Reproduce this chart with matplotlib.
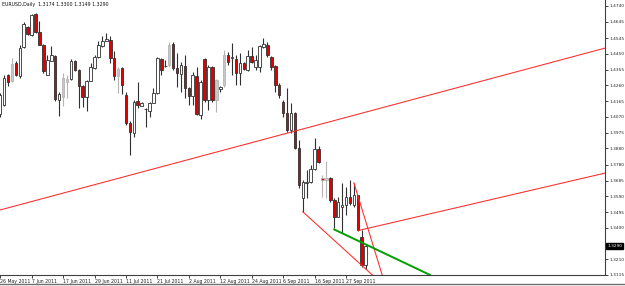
import matplotlib
matplotlib.use('Agg')
import matplotlib.pyplot as plt
import numpy as np
from matplotlib.lines import Line2D

plt.rcParams['font.family'] = 'DejaVu Sans'

# EURUSD daily bars (one per trading day, 26 May .. early Oct 2011)
opens = [1.4088, 1.4144, 1.4325, 1.4285, 1.4396, 1.4315, 1.4490, 1.4611, 1.4567, 1.4692,
         1.4581, 1.4503, 1.4325, 1.4410, 1.4440, 1.4174, 1.4188, 1.4281, 1.4301, 1.4410,
         1.4356, 1.4255, 1.4188, 1.4289, 1.4366, 1.4430, 1.4496, 1.4527, 1.4535, 1.4426,
         1.4315, 1.4366, 1.4204, 1.4033, 1.3975, 1.4166, 1.4138, 1.4118, 1.4107, 1.4156,
         1.4212, 1.4418, 1.4377, 1.4383, 1.4510, 1.4363, 1.4329, 1.4377, 1.4246, 1.4196,
         1.4317, 1.4081, 1.4418, 1.4172, 1.4373, 1.4172, 1.4238, 1.4263, 1.4444, 1.4424,
         1.4418, 1.4333, 1.4394, 1.4353, 1.4438, 1.4373, 1.4373, 1.4494, 1.4504, 1.4434,
         1.4377, 1.4263, 1.4162, 1.4095, 1.3991, 1.4095, 1.3880, 1.3578, 1.3669, 1.3679,
         1.3753, 1.3874, 1.3699, 1.3689, 1.3699, 1.3568, 1.3467, 1.3528, 1.3538, 1.3588,
         1.3538, 1.3598, 1.3346, 1.3174]
highs = [1.4215, 1.4325, 1.4330, 1.4426, 1.4406, 1.4503, 1.4643, 1.4617, 1.4692, 1.4698,
         1.4647, 1.4511, 1.4446, 1.4496, 1.4446, 1.4221, 1.4335, 1.4325, 1.4422, 1.4416,
         1.4360, 1.4261, 1.4295, 1.4396, 1.4446, 1.4527, 1.4557, 1.4577, 1.4557, 1.4466,
         1.4370, 1.4370, 1.4220, 1.4045, 1.4172, 1.4283, 1.4160, 1.4124, 1.4162, 1.4243,
         1.4430, 1.4424, 1.4414, 1.4524, 1.4524, 1.4454, 1.4403, 1.4444, 1.4252, 1.4343,
         1.4373, 1.4293, 1.4424, 1.4383, 1.4376, 1.4296, 1.4255, 1.4474, 1.4464, 1.4514,
         1.4444, 1.4454, 1.4403, 1.4474, 1.4494, 1.4444, 1.4504, 1.4545, 1.4524, 1.4438,
         1.4383, 1.4273, 1.4172, 1.4243, 1.4152, 1.4101, 1.3930, 1.3689, 1.3749, 1.3779,
         1.3940, 1.3894, 1.3719, 1.3805, 1.3709, 1.3578, 1.3588, 1.3669, 1.3648, 1.3689,
         1.3672, 1.3598, 1.3387, 1.3300]
lows = [1.4068, 1.4134, 1.4255, 1.4281, 1.4315, 1.4305, 1.4486, 1.4567, 1.4557, 1.4577,
        1.4503, 1.4335, 1.4321, 1.4406, 1.4164, 1.4074, 1.4134, 1.4184, 1.4295, 1.4350,
        1.4124, 1.4128, 1.4104, 1.4285, 1.4362, 1.4426, 1.4490, 1.4527, 1.4396, 1.4295,
        1.4215, 1.4209, 1.4020, 1.3840, 1.3948, 1.4124, 1.4136, 1.4011, 1.4067, 1.4152,
        1.4208, 1.4323, 1.4371, 1.4373, 1.4353, 1.4252, 1.4222, 1.4182, 1.4142, 1.4142,
        1.4081, 1.4055, 1.4162, 1.4112, 1.4162, 1.4101, 1.4222, 1.4252, 1.4383, 1.4323,
        1.4263, 1.4263, 1.4353, 1.4349, 1.4394, 1.4353, 1.4343, 1.4484, 1.4434, 1.4353,
        1.4222, 1.4182, 1.4071, 1.3981, 1.3971, 1.3874, 1.3639, 1.3497, 1.3578, 1.3669,
        1.3749, 1.3790, 1.3588, 1.3578, 1.3558, 1.3397, 1.3463, 1.3367, 1.3477, 1.3538,
        1.3528, 1.3383, 1.3165, 1.3149]
closes = [1.4201, 1.4305, 1.4281, 1.4390, 1.4325, 1.4486, 1.4631, 1.4571, 1.4688, 1.4583,
          1.4507, 1.4346, 1.4416, 1.4446, 1.4180, 1.4209, 1.4305, 1.4299, 1.4410, 1.4356,
          1.4255, 1.4188, 1.4289, 1.4370, 1.4430, 1.4503, 1.4531, 1.4539, 1.4426, 1.4315,
          1.4362, 1.4265, 1.4031, 1.3979, 1.4162, 1.4142, 1.4152, 1.4118, 1.4152, 1.4216,
          1.4424, 1.4353, 1.4380, 1.4504, 1.4363, 1.4333, 1.4383, 1.4243, 1.4196, 1.4323,
          1.4086, 1.4283, 1.4172, 1.4373, 1.4172, 1.4293, 1.4252, 1.4444, 1.4403, 1.4434,
          1.4333, 1.4397, 1.4357, 1.4438, 1.4403, 1.4414, 1.4498, 1.4510, 1.4444, 1.4373,
          1.4263, 1.4202, 1.4092, 1.3991, 1.4095, 1.3880, 1.3659, 1.3679, 1.3679, 1.3753,
          1.3874, 1.3799, 1.3689, 1.3699, 1.3568, 1.3467, 1.3558, 1.3538, 1.3588, 1.3548,
          1.3598, 1.3387, 1.3175, 1.3290]

# bars drawn greyed out on the original chart
faded = [3, 16, 17, 30, 43, 55, 57, 82, 83]

date_ticks = [0, 8, 16, 24, 32, 40, 48, 56, 64, 72, 80, 88]
date_labels = ['26 May 2011', '7 Jun 2011', '17 Jun 2011', '29 Jun 2011', '11 Jul 2011',
               '21 Jul 2011', '2 Aug 2011', '12 Aug 2011', '24 Aug 2011', '6 Sep 2011',
               '16 Sep 2011', '27 Sep 2011']
price_ticks = [1.4740, 1.4645, 1.4545, 1.4450, 1.4355, 1.4260, 1.4165, 1.4070, 1.3975,
               1.3880, 1.3780, 1.3685, 1.3590, 1.3495, 1.3400, 1.3210, 1.3115]

# trend lines drawn on the chart: (bar, price) start and end
red_lines = [
    ((0, 1.3508), (154, 1.4486)),
    ((91, 1.3383), (154, 1.3731)),
    ((77, 1.3497), (94.7, 1.3115)),
    ((90, 1.3672), (97.2, 1.3115)),
]
green_line = ((85, 1.3390), (109.4, 1.3115))

last_price = 1.3290
title = 'EURUSD,Daily  1.3174 1.3300 1.3149 1.3290'

fig = plt.figure(figsize=(6.25, 2.86), dpi=100)
ax = fig.add_axes([0, 11/286, 605/625, 275/286])

o = np.array(opens); h = np.array(highs); l = np.array(lows); c = np.array(closes)
x = np.arange(len(o))
bull = c >= o
fade = np.isin(x, faded)

wick_col = np.where(fade, '#b4b4b4', '#303030')
ax.vlines(x, l, h, colors=wick_col, linewidth=0.8, zorder=2)

body_lo = np.minimum(o, c)
body_h = np.maximum(np.abs(c - o), 0.00012)
face = np.where(bull, '#ffffff', '#e00000')
face = np.where(fade & bull, '#c8c8c8', face)
edge = np.where(fade, '#b4b4b4', '#303030')
ax.bar(x, body_h, bottom=body_lo, width=0.65, color=face, edgecolor=edge,
       linewidth=0.6, zorder=3)

for (x0, y0), (x1, y1) in red_lines:
    ax.plot([x0, x1], [y0, y1], color='#ff2a2a', linewidth=0.75, zorder=4)
(gx0, gy0), (gx1, gy1) = green_line
ax.plot([gx0, gx1], [gy0, gy1], color='#00a000', linewidth=1.4, zorder=4)

ax.set_xlim(-0.05, 153.9)
ax.set_ylim(1.3115, 1.4776)

for s in ['left', 'top']:
    ax.spines[s].set_visible(False)
for s in ['right', 'bottom']:
    ax.spines[s].set_color('#404040')
    ax.spines[s].set_linewidth(0.8)

ax.yaxis.tick_right()
ax.set_yticks(price_ticks)
ax.set_yticklabels(['%.4f' % v for v in price_ticks])
ax.tick_params(axis='y', length=2, width=0.6, pad=1.2, labelsize=3.1, colors='#202020')

ax.set_xticks(date_ticks)
ax.set_xticklabels(date_labels)
ax.tick_params(axis='x', length=2, width=0.6, pad=1.2, labelsize=3.3, colors='#202020')
for lab in ax.get_xticklabels():
    lab.set_horizontalalignment('left')

ax.annotate('%.4f' % last_price, xy=(1.0, last_price), xycoords=('axes fraction', 'data'),
            xytext=(1.6, 0), textcoords='offset points', va='center', ha='left',
            fontsize=3.1, color='white',
            bbox=dict(boxstyle='square,pad=0.2', fc='black', ec='black'))

ax.text(0.003, 0.992, title, transform=ax.transAxes, va='top', ha='left',
        fontsize=3.4, color='#101010')

fig.add_artist(Line2D([0, 1], [2/286, 2/286], color='#707070', linewidth=1.0))

fig.savefig('out.png', dpi=100)
